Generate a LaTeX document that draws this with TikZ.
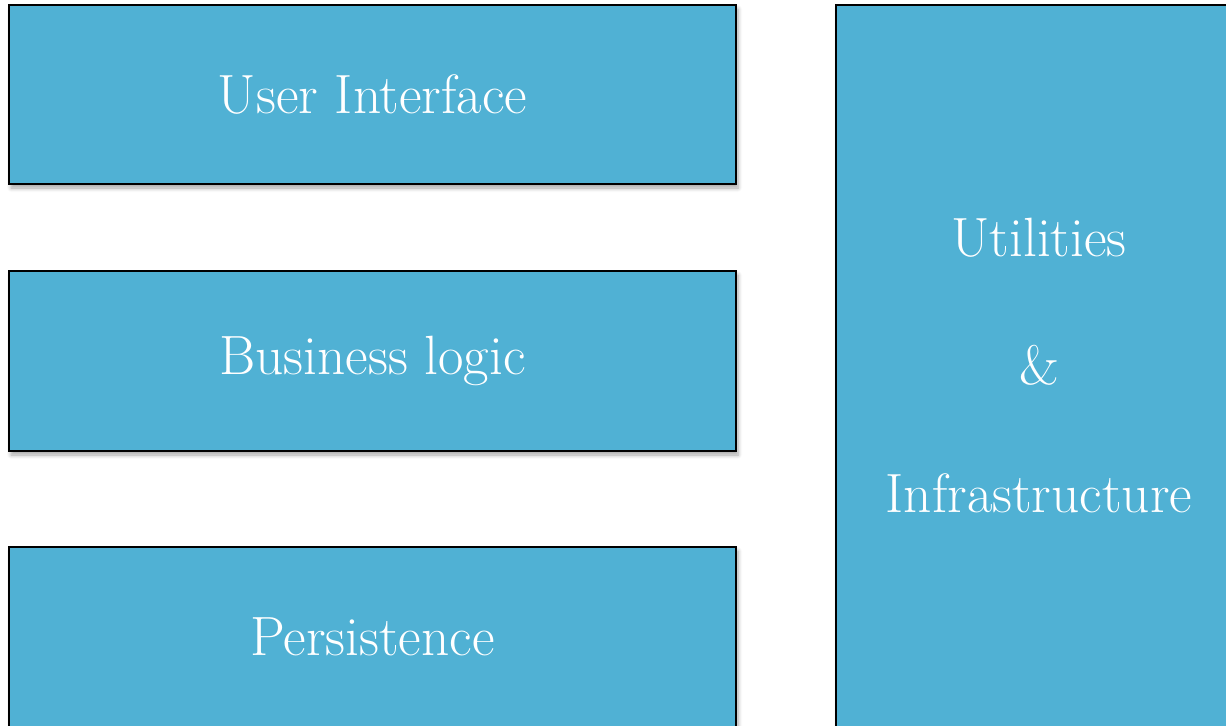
\documentclass[tikz,border=0pt]{standalone}
\usepackage{fontspec}
\usetikzlibrary{shadows.blur}
\definecolor{layerblue}{HTML}{50B1D4}
\tikzset{
  layer/.style={draw=black, line width=1.5pt, fill=layerblue, text=white,
    inner sep=0pt, outer sep=0pt,
    blur shadow={shadow xshift=1.5pt, shadow yshift=-3pt, shadow opacity=35, shadow blur steps=6, shadow blur radius=3pt},
    font=\fontsize{41.5}{49}\selectfont}
}
\begin{document}
\begin{tikzpicture}[x=0.75pt,y=-0.75pt]
\useasboundingbox (0,0) rectangle (1226,725);
\begin{scope}
\clip (0,0) rectangle (1226,725);
\node[layer, minimum width=727*0.75pt, minimum height=179*0.75pt] (ui) at (372.5,94.5) {User Interface};
\node[layer, minimum width=727*0.75pt, minimum height=180*0.75pt] (bl) at (372.5,361) {Business logic};
\node[layer, minimum width=727*0.75pt, minimum height=180*0.75pt] (pe) at (372.5,637) {Persistence};
\node[layer, minimum width=406*0.75pt, minimum height=722*0.75pt, align=center] (ut) at (1039,366) {Utilities\\[47pt]\&\\[47pt]Infrastructure};
\end{scope}
\end{tikzpicture}
\end{document}
